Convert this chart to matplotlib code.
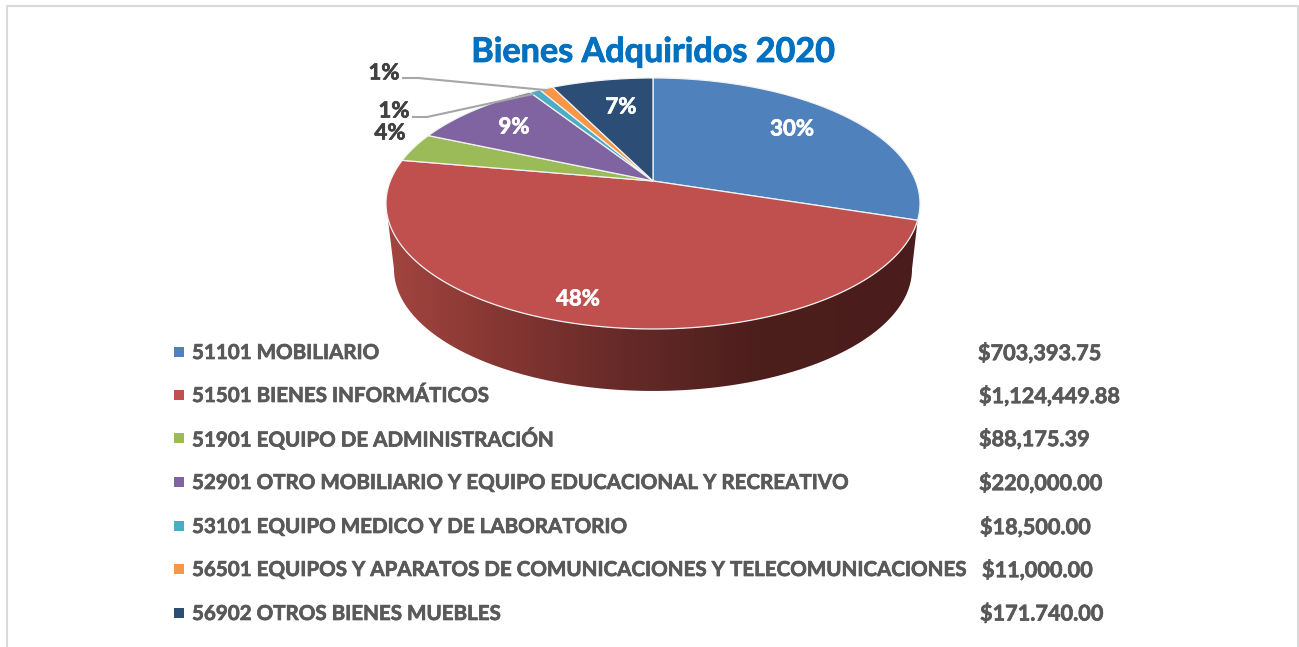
#
# Bienes Adquiridos 2020 - 3D look pie with a typed legend
#
from matplotlib import pyplot as plt
from matplotlib.colors import LinearSegmentedColormap
from matplotlib.patches import Polygon
import matplotlib.patheffects as pe
import numpy as np

title = "Bienes Adquiridos 2020"
categories = ["51101 MOBILIARIO", "51501 BIENES INFORMÁTICOS", "51901 EQUIPO DE ADMINISTRACIÓN",
              "52901 OTRO MOBILIARIO Y EQUIPO EDUCACIONAL Y RECREATIVO",
              "53101 EQUIPO MEDICO Y DE LABORATORIO",
              "56501 EQUIPOS Y APARATOS DE COMUNICACIONES Y TELECOMUNICACIONES",
              "56902 OTROS BIENES MUEBLES"]
amounts = ["$703,393.75", "$1,124,449.88", "$88,175.39", "$220,000.00", "$18,500.00", "$11,000.00", "$171.740.00"]
# slice sizes as drawn in the picture (the orange one looks bigger than its printed amount)
slices = [703393.75, 1124449.88, 88175.39, 220000.0, 18500.0, 23000.0, 171740.0]
pct_labels = ["30%", "48%", "4%", "9%", "1%", "1%", "7%"]
colors = ["#4F81BD", "#C0504D", "#9BBB59", "#8064A2", "#4BACC6", "#F79646", "#2C4D75"]

# layout in image pixels
W, H = 1299, 647
CX, CY = 653, 181
RX, RY, K = 262.7, 121.5, 0.179
DROP, SHRINK = 66.4, 0.97
FONT = "Lato"
GREY = "#595959"

label_xy = [(792, 129), (578, 299), (390, 133), (514, 127), (394, 111), (384, 73), (621, 107)]
label_white = [True, True, False, True, False, False, True]
legend_y = [353, 396, 439, 483, 527, 570, 614]
amount_x = [978, 979, 979, 979, 980, 982, 980]

#-------------------------------------------------------------------------------
def rim(deg, drop=0.0, scale=1.0):
  # circle seen in perspective, so the apex sits above the ellipse centre
  a = np.radians(deg)
  d = 1 + K * np.sin(a)
  return CX + scale * RX * np.cos(a) / d, CY + drop - scale * RY * np.sin(a) / d

def thick(color, width=0.5):
  # Lato bold is a bit lighter than the font of the picture
  return [pe.withStroke(linewidth=width, foreground=color)]

fig = plt.figure(figsize=(W / 100, H / 100), dpi=100)
ax = fig.add_axes([0, 0, 1, 1])
ax.set_xlim(0, W)
ax.set_ylim(H, 0)
ax.axis("off")

# frame
ax.plot([7, 7, 1298, 1298], [H, 6, 6, H], color="#D9D9D9", linewidth=1.5)

# side of the pie
shares = np.array(slices) / sum(slices)
edges = 90 - 360 * np.concatenate([[0], np.cumsum(shares)])
top_t = np.linspace(edges[1], -169.7, 200)
bot_t = np.linspace(-169.7, -10.3, 200)
tx, ty = rim(top_t)
bx, by = rim(bot_t, DROP, SHRINK)
side = Polygon(np.column_stack([np.r_[tx, bx], np.r_[ty, by]]), closed=True, facecolor="none", edgecolor="none")
ax.add_patch(side)
cmap = LinearSegmentedColormap.from_list("side", [(0, "#A3453F"), (0.2, "#873733"), (0.45, "#652A28"),
                                                  (0.7, "#4C1E1C"), (1, "#4A1C1B")])
img = ax.imshow(np.linspace(0, 1, 256)[None, :], extent=(386, 918, 400, 180), aspect="auto", cmap=cmap, zorder=1)
img.set_clip_path(side)
ax.set_xlim(0, W)
ax.set_ylim(H, 0)

# top of the pie
for i in range(len(slices)):
  t = np.linspace(edges[i], edges[i + 1], 120)
  x, y = rim(t)
  ax.fill(np.r_[CX, x], np.r_[CY, y], facecolor=colors[i], edgecolor="#F2F2F2", linewidth=0.9, zorder=2)

# leader lines of the two small slices
ax.plot([403, 418, 545], [78, 78, 90], color="#A6A6A6", linewidth=1.5, zorder=3)
ax.plot([413, 427, 533], [117, 117, 94], color="#A6A6A6", linewidth=1.5, zorder=3)

for i in range(len(slices)):
  c = "white" if label_white[i] else "#404040"
  ax.text(label_xy[i][0], label_xy[i][1], pct_labels[i], ha="center", va="center", family=FONT, weight="bold",
          fontsize=16, color=c, zorder=4, path_effects=thick(c))

ax.text(653, 52, title, ha="center", va="center", family=FONT, weight="bold", fontsize=24.6, color="#0070C0",
        path_effects=thick("#0070C0", 0.6))

# legend with amounts
for i in range(len(categories)):
  ax.scatter([179], [legend_y[i] - 1], marker="s", s=42, color=colors[i], linewidths=0)
  ax.text(192, legend_y[i], categories[i], ha="left", va="center", family=FONT, weight="bold", fontsize=14.8,
          color=GREY, path_effects=thick(GREY))
  ax.text(amount_x[i], legend_y[i], amounts[i], ha="left", va="center", family=FONT, weight="bold", fontsize=15.6,
          color=GREY, path_effects=thick(GREY))

fig.savefig("out.png", dpi=100)
